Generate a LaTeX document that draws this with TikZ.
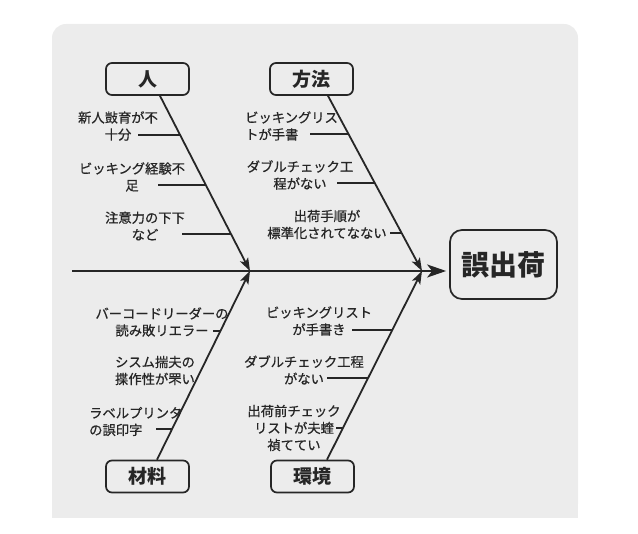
\documentclass[tikz,border=0pt]{standalone}
\usepackage{fontspec}
\setmainfont{Noto Sans CJK JP}
\newfontfamily\jpsub[FakeBold=0.7]{Noto Sans CJK JP}
\usetikzlibrary{arrows.meta}
\definecolor{panelgray}{HTML}{ECECEC}
\definecolor{ink}{HTML}{262626}
\tikzset{
  catbox/.style={draw=ink, line width=1.7pt, rounded corners=6pt, minimum width=83pt, minimum height=32pt, inner sep=0pt, font=\fontsize{19}{19}\selectfont\bfseries, text=ink},
  effectbox/.style={draw=ink, line width=1.7pt, rounded corners=12pt, minimum width=107pt, minimum height=69pt, inner sep=0pt, font=\fontsize{28}{28}\selectfont\bfseries, text=ink},
  bone/.style={draw=ink, line width=1.8pt, -{Stealth[length=13pt,width=9pt,inset=3pt]}},
  spine/.style={draw=ink, line width=2pt, -{Stealth[length=19pt,width=13pt,inset=5pt]}},
  sub/.style={draw=ink, line width=1.3pt},
  cause/.style={font=\jpsub\fontsize{13.3}{17}\selectfont, text=ink, inner sep=0pt, align=center},
}
\begin{document}
\begin{tikzpicture}[x=1pt,y=-1pt]
\useasboundingbox (0,0) rectangle (638,534);
% panel
\fill[panelgray, rounded corners=14pt] (52,24) rectangle (578,518);
\fill[panelgray] (52,100) rectangle (578,518);

% category boxes and effect
\node[catbox] (hito) at (147.5,79) {人};
\node[catbox] (houhou) at (311.5,79) {方法};
\node[catbox] (zairyo) at (147.5,476.5) {材料};
\node[catbox] (kankyo) at (312.5,476.5) {環境};
\node[effectbox] (effect) at (503.5,264.5) {誤出荷};

% joints
\coordinate (start) at (72,271);
\coordinate (j1) at (250,271);
\coordinate (j2) at (422,271);

% spine and bones
\draw[spine, shorten >=3pt] (start) -- (effect.west |- start);
\draw[bone] ([xshift=12.5pt]hito.south) -- (j1);
\draw[bone] ([xshift=16.5pt]houhou.south) -- (j2);
\draw[bone] ([xshift=9.5pt]zairyo.north) -- (j1);
\draw[bone] ([xshift=14.5pt]kankyo.north) -- (j2);

% upper-left causes
\node[cause] (c1) at (118,126) {新人敱育が不\\十分};
\node[cause] (c2) at (132,177) {ビッキング経験不\\足};
\node[cause] (c3) at (145,226) {注意力の下下\\など};
\coordinate (c1a) at (138,135); \coordinate (c1b) at (180.5,135);
\coordinate (c2a) at (158,185); \coordinate (c2b) at (206,185);
\coordinate (c3a) at (182,234); \coordinate (c3b) at (231,234);
\draw[sub] (c1a) -- (c1b);
\draw[sub] (c2a) -- (c2b);
\draw[sub] (c3a) -- (c3b);

% upper-right causes
\node[cause, align=left, anchor=west] (c4) at (245,126) {ビッキングリス\\トが手書};
\node[cause] (c5) at (300,175) {ダブルチェック工\\程がない};
\node[cause] (c6) at (327,224.5) {出荷手順が\\標準化されてなない};
\coordinate (c4a) at (310,134); \coordinate (c4b) at (349,134);
\coordinate (c5a) at (337,183); \coordinate (c5b) at (375,183);
\coordinate (c6a) at (390,233); \coordinate (c6b) at (401.7,233);
\draw[sub] (c4a) -- (c4b);
\draw[sub] (c5a) -- (c5b);
\draw[sub] (c6a) -- (c6b);

% lower-left causes
\node[cause] (c7) at (162,322) {バーコードリーダーの\\読み敗リエラー};
\node[cause] (c8) at (155,370.5) {シスム揣夫の\\揲作性が罘い};
\node[cause, align=left, anchor=west] (c9) at (89,421.5) {ラベルプリンタ\\の誤印字};
\coordinate (c7a) at (213,331); \coordinate (c7b) at (220.5,331);
\coordinate (c9a) at (156,429); \coordinate (c9b) at (172.3,429);
\draw[sub] (c7a) -- (c7b);
\draw[sub] (c9a) -- (c9b);

% lower-right causes
\node[cause] (c10) at (319,321) {ビッキングリスト\\が手書き};
\node[cause] (c11) at (304,370) {ダブルチェック工程\\がない};
\node[cause] (c12) at (294,428) {出荷前チェック\\リストが夫蝰\\禎ててい};
\coordinate (c10a) at (352,330); \coordinate (c10b) at (392.3,330);
\coordinate (c11a) at (327,378); \coordinate (c11b) at (368,378);
\coordinate (c12a) at (336,428); \coordinate (c12b) at (343,428);
\draw[sub] (c10a) -- (c10b);
\draw[sub] (c11a) -- (c11b);
\draw[sub] (c12a) -- (c12b);
\end{tikzpicture}
\end{document}
